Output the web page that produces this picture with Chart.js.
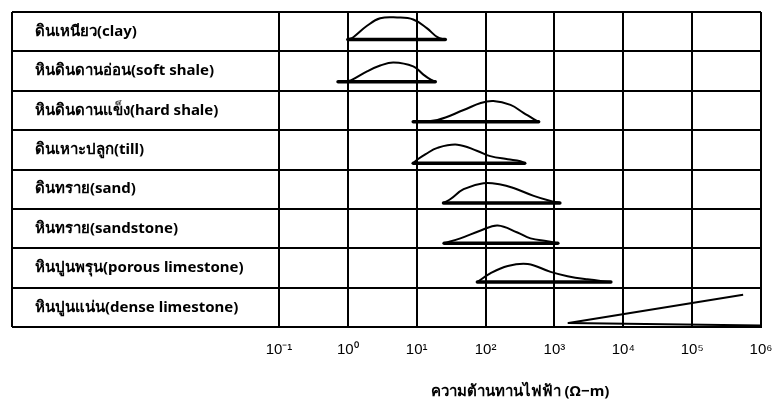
<!DOCTYPE html>
<html>
<head>
<meta charset="utf-8">
<script src="https://cdn.jsdelivr.net/npm/chart.js@4"></script>
<style>
html, body { margin: 0; padding: 0; background: #fff; }
</style>
</head>
<body>
<canvas id="myChart" width="773" height="408"></canvas>
<script>
// rows, top to bottom
var rowLabels = [
	'ดินเหนียว(clay)',
	'หินดินดานอ่อน(soft shale)',
	'หินดินดานแข็ง(hard shale)',
	'ดินเหาะปลูก(till)',
	'ดินทราย(sand)',
	'หินทราย(sandstone)',
	'หินปูนพรุน(porous limestone)',
	'หินปูนแน่น(dense limestone)'
];

var decades = [0.1, 1, 10, 100, 1000, 10000, 100000, 1000000];
var decadeLabels = ['10⁻¹', '10⁰', '10¹', '10²', '10³', '10⁴', '10⁵', '10⁶'];

// resistivity (ohm-m) along each curve
var curveX = [
	[1.0, 1.2, 1.9, 2.95, 5.2, 8.9, 14, 20, 26],
	[0.95, 1.16, 1.9, 2.95, 4.6, 8.9, 12.5, 16, 18.6],
	[8.9, 20, 48, 85, 130, 230, 355, 500, 590],
	[8.9, 10, 13.5, 20, 39, 76, 117, 210, 320, 370],
	[24.5, 31, 48, 93, 165, 255, 500, 880, 1200],
	[25, 43, 85, 150, 290, 450, 790, 1120],
	[76, 117, 210, 410, 880, 1550, 3000, 6600],
	[1600, 550000]
];
// height of the curve inside its row (0 = row bottom, 1 = row top)
var curveH = [
	[0.30, 0.36, 0.65, 0.84, 0.86, 0.81, 0.59, 0.36, 0.30],
	[0.23, 0.28, 0.49, 0.64, 0.72, 0.62, 0.41, 0.28, 0.23],
	[0.21, 0.26, 0.51, 0.69, 0.74, 0.64, 0.44, 0.28, 0.21],
	[0.16, 0.24, 0.39, 0.55, 0.63, 0.47, 0.34, 0.26, 0.21, 0.16],
	[0.15, 0.25, 0.50, 0.65, 0.62, 0.53, 0.33, 0.20, 0.15],
	[0.13, 0.25, 0.45, 0.58, 0.40, 0.25, 0.18, 0.13],
	[0.14, 0.36, 0.55, 0.60, 0.40, 0.29, 0.21, 0.14],
	[0.10, 0.82]
];
// base line of each curve: [from, to] and heights
var baseX = [
	[1.0, 26], [0.72, 18.6], [8.9, 590], [8.9, 370],
	[24.5, 1200], [25, 1120], [76, 6600], [1600, 1000000]
];
var baseH = [
	[0.30, 0.30], [0.23, 0.23], [0.21, 0.21], [0.16, 0.16],
	[0.15, 0.15], [0.13, 0.13], [0.14, 0.14], [0.10, 0.04]
];

var datasets = [];
rowLabels.forEach(function(lbl, i) {
	datasets.push({
		label: lbl,
		data: curveX[i].map(function(x, k) { return {x: x, y: i + 0.5 - curveH[i][k]}; }),
		yAxisID: 'yv',
		borderColor: '#000',
		borderWidth: 2,
		pointRadius: 0,
		tension: curveX[i].length > 2 ? 0.4 : 0,
		fill: false
	});
	datasets.push({
		label: lbl + ' base',
		data: baseX[i].map(function(x, k) { return {x: x, y: i + 0.5 - baseH[i][k]}; }),
		yAxisID: 'yv',
		borderColor: '#000',
		borderWidth: i == 7 ? 2 : 3.5,
		borderCapStyle: 'round',
		pointRadius: 0,
		tension: 0,
		fill: false
	});
});

// left edge of the label column
var leftFrame = {
	id: 'leftFrame',
	afterDraw: function(chart) {
		var ctx = chart.ctx, a = chart.chartArea;
		ctx.save();
		ctx.strokeStyle = '#000';
		ctx.lineWidth = 2;
		ctx.beginPath();
		ctx.moveTo(12, a.top);
		ctx.lineTo(12, a.bottom);
		ctx.stroke();
		ctx.restore();
	}
};

var chart = new Chart(document.getElementById('myChart').getContext('2d'), {
	type: 'line',
	data: { datasets: datasets },
	plugins: [leftFrame],
	options: {
		responsive: false,
		animation: false,
		layout: { padding: { left: 35, right: 12, top: 10, bottom: 7 } },
		plugins: { legend: { display: false }, tooltip: { enabled: false } },
		scales: {
			x: {
				type: 'logarithmic',
				min: 0.1,
				max: 1000000,
				afterBuildTicks: function(scale) {
					scale.ticks = decades.map(function(v) { return {value: v}; });
				},
				afterFit: function(scale) {
					scale.paddingLeft = 0;
					scale.paddingRight = 0;
				},
				ticks: {
					callback: function(v, i) { return decadeLabels[i]; },
					padding: 14,
					color: '#000',
					maxRotation: 0,
					autoSkip: false,
					font: { family: 'Liberation Sans', size: 15 }
				},
				grid: { color: '#000', lineWidth: 2, drawTicks: false },
				border: { color: '#000', width: 2 },
				title: {
					display: true,
					text: 'ความต้านทานไฟฟ้า (Ω−m)',
					color: '#000',
					padding: { top: 10, bottom: 0 },
					font: { family: 'Noto Sans', size: 15, weight: 'bold' }
				}
			},
			y: {
				type: 'category',
				labels: rowLabels,
				offset: true,
				position: 'left',
				afterFit: function(scale) { scale.width = 244; },
				ticks: {
					crossAlign: 'far',
					color: '#000',
					font: { family: 'Noto Sans', size: 15, weight: 'bold' }
				},
				grid: { offset: true, color: '#000', lineWidth: 2, tickLength: 267 },
				border: { color: '#000', width: 2 }
			},
			yv: { type: 'linear', display: false, min: -0.5, max: 7.5, reverse: true }
		}
	}
});
</script>
</body>
</html>
